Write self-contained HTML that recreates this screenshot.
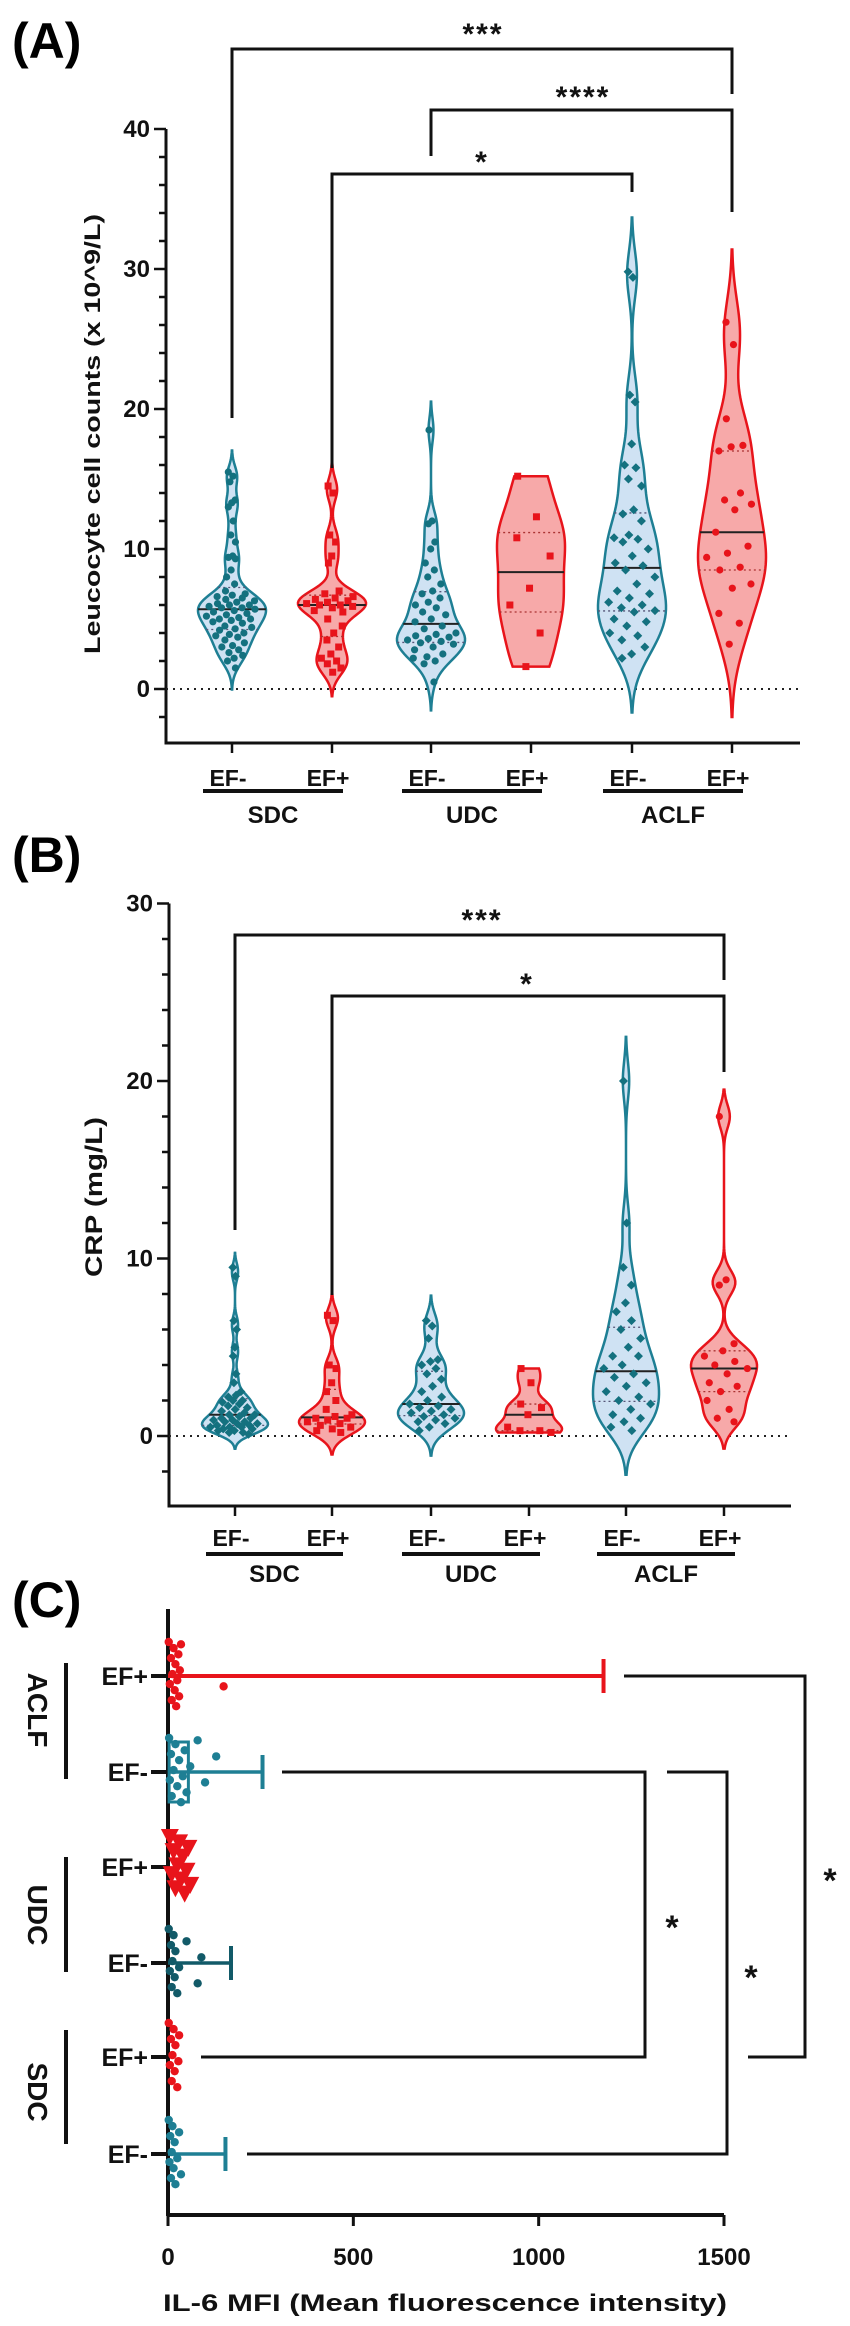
<!DOCTYPE html>
<html><head><meta charset="utf-8"><style>
html,body{margin:0;padding:0;background:#fff;}
svg{display:block;font-family:"Liberation Sans",Arial,sans-serif;font-weight:bold;}
</style></head><body>
<svg id="fig" width="850" height="2326" viewBox="0 0 850 2326" xmlns="http://www.w3.org/2000/svg">
<text x="12" y="58" font-size="50">(A)</text>
<text x="12" y="872" font-size="50">(B)</text>
<text x="12" y="1617" font-size="50">(C)</text>
<g id="pa"></g>
<g id="pb"></g>
<g id="pc"></g>
</svg>
<script>
// ---------- Panel A data (Leucocyte counts) ----------
const catLabels = ["EF-","EF+","EF-","EF+","EF-","EF+"];
const groupLabels = ["SDC","UDC","ACLF"];
const aTicks = [0,10,20,30,40];
const aSdcNeg = [15.5,15.2,14.8,13.5,13.3,13,12,11,10.5,9.5,9.4,9.3,8.5,8,7.5,7,6.8,6.7,6.6,6.5,6.4,6.3,6.2,6.1,6,6,5.9,5.8,5.8,5.7,5.6,5.5,5.4,5.3,5.2,5.1,5,5,4.9,4.8,4.7,4.5,4.4,4.3,4.2,4,3.9,3.8,3.7,3.5,3.3,3.1,3,2.8,2.6,2.4,2.2,2,1.5];
const aSdcPos = [14.5,14,11,10.5,9.5,9,7,6.8,6.6,6.5,6.4,6.3,6.2,6.1,6,6,5.9,5.8,5.6,5.5,5,4.5,4,3.5,3,2.5,2.2,2,1.8,1.5,1.2];
const aUdcNeg = [18.5,12,11.8,10.5,10,9,8.5,8,7.5,7,6.8,6.5,6.2,6,5.8,5.5,5.3,5,4.8,4.5,4.3,4,3.9,3.8,3.7,3.6,3.5,3.4,3.3,3.2,3,2.8,2.5,2.3,2.2,2,1.8,0.5];
const aUdcPos = [15.2,12.3,10.8,9.5,7.2,6,4,1.6];
const aAclfNeg = [29.8,29.4,21,20.5,17.5,16,15.8,15,14.5,12.8,12.5,12,11,10.8,10.7,10.5,10,9.5,9,8.8,8.5,8,7.5,7,6.8,6.5,6.2,6,5.8,5.6,5.5,5,4.8,4.5,4,3.8,3.5,3,2.5,2.2];
const aAclfPos = [26.2,24.6,19.3,17.4,17.3,17,14,13.5,13.2,12.8,11.2,10.2,9.7,9.4,8.7,8.5,7.5,7.2,5.4,4.7,3.2];
// ---------- Panel B data (CRP) ----------
const bTicks = [0,10,20,30];
const bSdcNeg = [9.5,9,6.5,6,5,4.5,3.5,3,2.5,2.3,2.2,2,2,1.9,1.8,1.7,1.6,1.5,1.4,1.3,1.2,1.2,1.1,1,1,0.9,0.9,0.8,0.8,0.7,0.7,0.6,0.6,0.5,0.5,0.5,0.4,0.4,0.3,0.3,0.2,0.2,0.1];
const bSdcPos = [6.8,6.5,4,3.8,3,2.5,2,1.5,1.2,1.1,1,1,0.9,0.8,0.7,0.6,0.5,0.4,0.3,0.2];
const bUdcNeg = [6.5,6.2,5.5,4.3,4.2,4,3.8,3.5,3.2,2.8,2.5,2.2,2,1.8,1.7,1.6,1.5,1.4,1.3,1.2,1.1,1,0.9,0.8,0.7,0.5,0.3];
const bUdcPos = [3.8,3,1.8,1.6,1.2,0.5,0.3,0.3,0.2];
const bAclfNeg = [20,12,9.5,8.5,7.5,7,6.5,6,5.5,5,4.5,4.5,4,3.8,3.5,3.3,3,2.8,2.5,2.2,2,1.8,1.5,1.2,1,0.8,0.5,0.3];
const bAclfPos = [18,8.8,8.5,5.2,4.8,4.5,4.2,4,3.8,3.5,3,2.8,2.5,2,1.5,1,0.8];
// ---------- Panel C data (IL-6 MFI) ----------
const cRowLabels = ["EF+","EF-","EF+","EF-","EF+","EF-"];
const cGroupLabels = ["ACLF","UDC","SDC"];
const cTicks = [0,500,1000,1500];
const cAclfPos = [2,5,8,10,12,15,18,20,22,25,28,30,32,35,150];
const cAclfNeg = [3,5,8,10,15,20,25,30,35,40,45,50,60,80,100,130];
const cUdcPos = [5,10,15,20,25,30,35,40,45,50,55,60];
const cUdcNeg = [2,5,8,10,12,15,18,20,25,30,50,80,90];
const cSdcPos = [2,5,8,10,12,15,18,20,25,28,30];
const cSdcNeg = [2,4,6,8,10,12,15,18,20,25,30,35];
const cWhiskerMax = [1175,255,0,170,0,155];

const NS="http://www.w3.org/2000/svg";
const TEAL="#1e7f94", TEALFILL="#cfe2f3", RED="#e8141b", REDFILL="#f7a9a9", DOT="#14717f";
function mk(tag,attrs,parent){const e=document.createElementNS(NS,tag);for(const k in attrs)e.setAttribute(k,attrs[k]);parent.appendChild(e);return e;}
function quant(s,q){const a=[...s].sort((x,y)=>x-y);const p=(a.length-1)*q;const i=Math.floor(p);return a[i]+(a[Math.min(i+1,a.length-1)]-a[i])*(p-i);}

function violinPanel(g,cfg){
  const y=v=>cfg.y0-v*cfg.k;
  // axis
  let e=mk('line',{x1:cfg.ax,y1:y(cfg.top),x2:cfg.ax,y2:cfg.bottom,stroke:'#111','stroke-width':3},g);
  
  
  e=mk('line',{x1:cfg.ax-1.5,y1:cfg.bottom,x2:cfg.axEnd,y2:cfg.bottom,stroke:'#111','stroke-width':3},g);
  
  
  for(let v=cfg.top;y(v)<=cfg.bottom;v-=2){
    const major=cfg.ticks.includes(v);
    e=mk('line',{x1:cfg.ax-(major?12:7),y1:y(v),x2:cfg.ax,y2:y(v),stroke:'#111','stroke-width':2.5},g);
    
    
  }
  cfg.ticks.forEach(t=>{
    e=mk('text',{x:cfg.ax-16,y:y(t)+8,'font-size':24,'text-anchor':'end',fill:'#111'},g);
    e.textContent=t;
    
    
  });
  e=mk('text',{x:0,y:0,'font-size':cfg.titleSize,'text-anchor':'middle',fill:'#111',transform:`translate(${cfg.titleX},${cfg.titleY}) rotate(-90)`,textLength:cfg.titleLen,lengthAdjust:'spacingAndGlyphs'},g);
  e.textContent=cfg.title;
  
  
  // zero line
  e=mk('line',{x1:cfg.ax,y1:y(0),x2:cfg.axEnd,y2:y(0),stroke:'#222','stroke-width':2,'stroke-dasharray':'2,5'},g);
  
  
  // groups
  cfg.groups.forEach((d,i)=>{
    const cx=cfg.xs[i], red=i%2==1, trunc=cfg.trunc[i];
    const n=d.length, mean=d.reduce((a,b)=>a+b,0)/n;
    const sd=Math.sqrt(d.reduce((a,b)=>a+(b-mean)**2,0)/(n-1));
    const iqr=quant(d,0.75)-quant(d,0.25);
    const bw=0.9*Math.min(sd,(iqr/1.34)||sd)*Math.pow(n,-0.2)*cfg.bwf;
    const mn=Math.min(...d), mx=Math.max(...d);
    const lo=trunc?mn:mn-2.3*bw, hi=trunc?mx:mx+2.3*bw;
    const N=120, pts=[]; let maxd=0;
    for(let j=0;j<=N;j++){const v=lo+(hi-lo)*j/N;let s=0;d.forEach(p=>s+=Math.exp(-0.5*((v-p)/bw)**2));pts.push([v,s]);if(s>maxd)maxd=s;}
    const hw=v=>{let s=0;d.forEach(p=>s+=Math.exp(-0.5*((v-p)/bw)**2));return s/maxd*cfg.maxHw;};
    let path='M'+pts.map(p=>`${cx+p[1]/maxd*cfg.maxHw},${y(p[0])}`).join('L');
    path+='L'+pts.slice().reverse().map(p=>`${cx-p[1]/maxd*cfg.maxHw},${y(p[0])}`).join('L')+'Z';
    e=mk('path',{d:path,fill:red?REDFILL:TEALFILL,stroke:red?RED:TEAL,'stroke-width':2.5},g);
    
    
    [0.25,0.5,0.75].forEach(q=>{const v=quant(d,q),w=hw(v);
      e=mk('line',{x1:cx-w,y1:y(v),x2:cx+w,y2:y(v),stroke:q==0.5?'#222':(red?'#a33':'#557'),'stroke-width':q==0.5?2:1.3,'stroke-dasharray':q==0.5?'':'2,3'},g);
      
      
    });
    const sorted=[...d].sort((a,b)=>b-a);
    sorted.forEach((v,j)=>{
      const f=((j*0.618034)%1)*2-1, px=cx+f*hw(v)*0.8, py=y(v), col=red?RED:DOT;
      if(cfg.shapes[i]=='s'){e=mk('rect',{x:px-3.5,y:py-3.5,width:7,height:7,fill:col},g);}
      else if(cfg.shapes[i]=='d'){e=mk('path',{d:`M${px},${py-4.5}L${px+4.5},${py}L${px},${py+4.5}L${px-4.5},${py}Z`,fill:col},g);}
      else{e=mk('circle',{cx:px,cy:py,r:3.6,fill:col},g);}
      
      
    });
    e=mk('line',{x1:cx,y1:cfg.bottom,x2:cx,y2:cfg.bottom+10,stroke:'#111','stroke-width':2.5},g);
    
    
    e=mk('text',{x:cx-4,y:cfg.labY,'font-size':23,'text-anchor':'middle',fill:'#111'},g);
    e.textContent=catLabels[i];
    
    
  });
  groupLabels.forEach((lab,k)=>{
    const x1=cfg.xs[2*k]-29,x2=cfg.xs[2*k+1]+11;
    e=mk('line',{x1:x1,y1:cfg.ulY,x2:x2,y2:cfg.ulY,stroke:'#111','stroke-width':4},g);
    
    
    e=mk('text',{x:(x1+x2)/2,y:cfg.grpY,'font-size':24,'text-anchor':'middle',fill:'#111'},g);
    e.textContent=lab;
    
    
  });
  cfg.brackets.forEach(b=>{
    e=mk('path',{d:`M${cfg.xs[b.a]},${b.ya}V${b.y}H${cfg.xs[b.b]}V${b.yb}`,fill:'none',stroke:'#111','stroke-width':3},g);
    
    
    e=mk('text',{x:b.tx,y:b.ty,'font-size':30,'text-anchor':'middle',fill:'#111','letter-spacing':2},g);
    e.textContent=b.t;
    
    
  });
}

violinPanel(document.getElementById('pa'),{
  y0:689,k:14.0,top:40,bottom:743,ax:166,axEnd:800,ticks:aTicks,
  xs:[232,332,431,531,632,732],groups:[aSdcNeg,aSdcPos,aUdcNeg,aUdcPos,aAclfNeg,aAclfPos],
  trunc:[false,false,false,true,false,false],shapes:['c','s','c','s','d','c'],bwf:0.75,maxHw:34,
  title:'Leucocyte cell counts (x 10^9/L)',titleX:100,titleY:434,titleSize:22,titleLen:440,
  labY:786,ulY:791,grpY:823,
  brackets:[{a:0,b:5,y:49,ya:418,yb:94,t:'***',tx:483,ty:44},
            {a:2,b:5,y:110,ya:156,yb:212,t:'****',tx:583,ty:107},
            {a:1,b:4,y:174,ya:468,yb:192,t:'*',tx:482,ty:172}]
});
violinPanel(document.getElementById('pb'),{
  y0:1436,k:17.75,top:30,bottom:1506,ax:169,axEnd:791,ticks:bTicks,
  xs:[235,332,431,529,626,724],groups:[bSdcNeg,bSdcPos,bUdcNeg,bUdcPos,bAclfNeg,bAclfPos],
  trunc:[false,false,false,true,false,false],shapes:['d','s','d','s','d','c'],bwf:0.75,maxHw:33,
  title:'CRP (mg/L)',titleX:102,titleY:1197,titleSize:24,titleLen:160,
  labY:1546,ulY:1554,grpY:1582,
  brackets:[{a:0,b:5,y:935,ya:1230,yb:980,t:'***',tx:482,ty:930},
            {a:1,b:5,y:996,ya:1295,yb:1072,t:'*',tx:527,ty:994}]
});

// ---------- Panel C ----------
(function(){
  const g=document.getElementById('pc');
  const X0=168,KX=(724-168)/1500,xs=v=>X0+v*KX;
  const rowY=[1676,1772,1867,1963,2057,2154];
  const rows=[cAclfPos,cAclfNeg,cUdcPos,cUdcNeg,cSdcPos,cSdcNeg];
  const cols=[RED,TEAL,RED,"#125a68",RED,TEAL];
  let e=mk('line',{x1:X0,y1:1609,x2:X0,y2:2216,stroke:'#111','stroke-width':4},g);
  
  
  e=mk('line',{x1:X0,y1:2215,x2:724,y2:2215,stroke:'#111','stroke-width':4},g);
  
  
  cTicks.forEach(t=>{
    e=mk('line',{x1:xs(t),y1:2215,x2:xs(t),y2:2226,stroke:'#111','stroke-width':3},g);
    
    
    e=mk('text',{x:xs(t),y:2265,'font-size':24,'text-anchor':'middle',fill:'#111'},g);
    e.textContent=t;
    
    
  });
  e=mk('text',{x:445,y:2311,'font-size':24,'text-anchor':'middle',fill:'#111',textLength:564,lengthAdjust:'spacingAndGlyphs'},g);
  e.textContent='IL-6 MFI (Mean fluorescence intensity)';
  
  
  rows.forEach((d,i)=>{
    const cy=rowY[i],col=cols[i];
    e=mk('line',{x1:151,y1:cy,x2:X0,y2:cy,stroke:'#111','stroke-width':4},g);
    
    
    e=mk('text',{x:148,y:cy+9,'font-size':25,'text-anchor':'end',fill:'#111'},g);
    e.textContent=cRowLabels[i];
    
    
    if(i==1){e=mk('rect',{x:xs(3),y:cy-30,width:xs(55)-xs(3),height:60,fill:'none',stroke:col,'stroke-width':3},g);
      
      }
    const wm=cWhiskerMax[i];
    if(wm>0){
      e=mk('line',{x1:xs(0),y1:cy,x2:xs(wm),y2:cy,stroke:col,'stroke-width':i==0?4:3.5},g);
      
      
      e=mk('line',{x1:xs(wm),y1:cy-17,x2:xs(wm),y2:cy+17,stroke:col,'stroke-width':4},g);
      
      
    }
    d.forEach((v,j)=>{
      const f=((j*0.618034)%1)*2-1, py=cy+f*(i==2?30:34), px=xs(v);
      if(i==2){e=mk('path',{d:`M${px-9},${py-8}L${px+9},${py-8}L${px},${py+9}Z`,fill:col},g);}
      else{e=mk('circle',{cx:px,cy:py,r:4.2,fill:col},g);}
      
      
    });
  });
  const grp=[[1663,1779,1710],[1857,1972,1915],[2030,2144,2092]];
  cGroupLabels.forEach((lab,k)=>{
    e=mk('line',{x1:66,y1:grp[k][0],x2:66,y2:grp[k][1],stroke:'#111','stroke-width':4},g);
    
    
    e=mk('text',{x:0,y:0,'font-size':28,'text-anchor':'middle',fill:'#111',transform:`translate(28,${grp[k][2]}) rotate(90)`},g);
    e.textContent=lab;
    
    
  });
  const br=[{x1:282,x2:645,r1:1772,r2:2057,l2:201,t:[672,1925]},
            {x1:667,x2:727,r1:1772,r2:2154,l2:247,t:[751,1975]},
            {x1:624,x2:805,r1:1676,r2:2057,l2:748,t:[830,1878]}];
  br.forEach(b=>{
    e=mk('path',{d:`M${b.x1},${b.r1}H${b.x2}V${b.r2}H${b.l2}`,fill:'none',stroke:'#111','stroke-width':3},g);
    
    
    e=mk('text',{x:b.t[0],y:b.t[1]+14,'font-size':34,'text-anchor':'middle',fill:'#111'},g);
    e.textContent='*';
    
    
  });
})();
</script>
</body></html>
